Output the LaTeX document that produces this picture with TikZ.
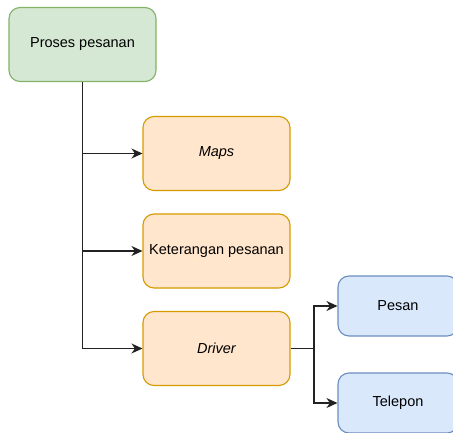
\documentclass[tikz,border=0pt]{standalone}
\usepackage{fontspec}
\setmainfont{Liberation Sans}
\usetikzlibrary{arrows.meta}
\definecolor{gfill}{HTML}{D5E8D4}\definecolor{gline}{HTML}{82B366}
\definecolor{ofill}{HTML}{FFE6CC}\definecolor{oline}{HTML}{D79B00}
\definecolor{bfill}{HTML}{DAE8FC}\definecolor{bline}{HTML}{6C8EBF}
\definecolor{edge}{HTML}{222222}
\tikzset{
  box/.style={rounded corners=11pt, line width=1.1pt, minimum width=147pt, minimum height=74pt, inner sep=0pt, align=center, font=\fontsize{14.5}{17}\selectfont},
  greenbox/.style={box, fill=gfill, draw=gline},
  orangebox/.style={box, fill=ofill, draw=oline},
  bluebox/.style={box, fill=bfill, draw=bline, minimum width=120pt, minimum height=60pt},
  conn/.style={draw=edge, line width=1.2pt},
  arr/.style={conn, -{Stealth[length=11pt,width=10pt,inset=3.5pt]}}
}
\begin{document}
\begin{tikzpicture}[x=1pt,y=-1pt]
\clip (0,0) rectangle (453,433);
\fill[white] (0,0) rectangle (453,433);
\node[greenbox] (proses) at (82.5,44.5) {Proses pesanan};
\node[orangebox] (maps) at (216.5,153.5) {\itshape Maps};
\node[orangebox] (ket) at (216.5,251) {Keterangan pesanan};
\node[orangebox] (driver) at (216.5,348.5) {\itshape Driver};
\node[bluebox] (pesan) at (398,306) {Pesan};
\node[bluebox] (telepon) at (398,403) {Telepon};
\draw[arr] (proses.south) |- (driver.west);
\draw[arr] (proses.south |- maps.west) -- (maps.west);
\draw[arr] (proses.south |- ket.west) -- (ket.west);
\coordinate (j) at (314,348.5);
\draw[conn] (driver.east) -- (j);
\draw[arr] (j) |- (pesan.west);
\draw[arr] (j) |- (telepon.west);
\end{tikzpicture}
\end{document}
